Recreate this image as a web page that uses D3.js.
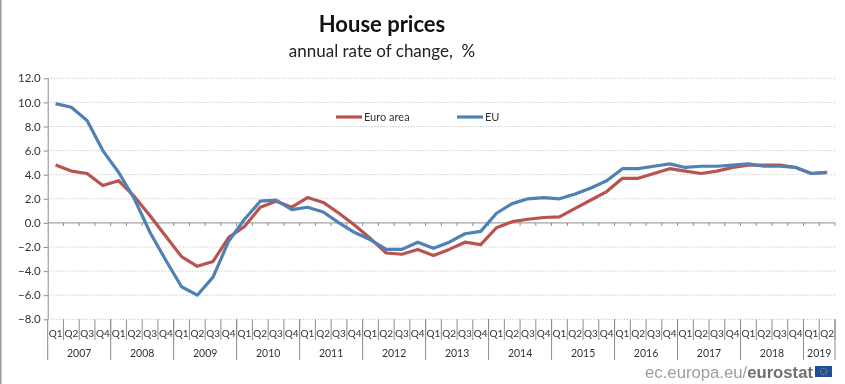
<!DOCTYPE html>
<html>
<head>
<meta charset="utf-8">
<script src="https://cdn.jsdelivr.net/npm/d3@7"></script>
<style>
  html, body { margin: 0; padding: 0; background: #fff; }
  svg { display: block; font-family: Lato, "Open Sans", sans-serif; filter: blur(0.4px); }
</style>
</head>
<body>
<div id="fig"></div>
<script>
const width = 845
const height = 384

const years = ['2007','2008','2009','2010','2011','2012','2013','2014','2015','2016','2017','2018','2019']
const quartersPerYear = [4,4,4,4,4,4,4,4,4,4,4,4,2]
const quarterNames = ['Q1','Q2','Q3','Q4']
const yTicks = [-8,-6,-4,-2,0,2,4,6,8,10,12]

const euroArea = [
  4.8, 4.3, 4.1, 3.1,
  3.5, 2.2, 0.6, -1.1,
  -2.8, -3.6, -3.2, -1.2,
  -0.3, 1.3, 1.8, 1.3,
  2.1, 1.7, 0.8, -0.2,
  -1.3, -2.5, -2.6, -2.2,
  -2.7, -2.2, -1.6, -1.8,
  -0.4, 0.1, 0.3, 0.45,
  0.5, 1.2, 1.9, 2.6,
  3.7, 3.7, 4.1, 4.5,
  4.3, 4.1, 4.3, 4.6,
  4.8, 4.8, 4.8, 4.6,
  4.1, 4.2
]
const eu = [
  9.9, 9.6, 8.5, 6.0,
  4.2, 2.0, -0.8, -3.1,
  -5.3, -6.0, -4.5, -1.5,
  0.3, 1.8, 1.9, 1.1,
  1.3, 0.9, 0.0, -0.8,
  -1.4, -2.2, -2.2, -1.6,
  -2.1, -1.6, -0.9, -0.7,
  0.8, 1.6, 2.0, 2.1,
  2.0, 2.4, 2.9, 3.5,
  4.5, 4.5, 4.7, 4.9,
  4.6, 4.7, 4.7, 4.8,
  4.9, 4.7, 4.7, 4.6,
  4.1, 4.2
]

// one entry per quarter, in order
const quarters = []
years.forEach((yr, i) => {
  for (let q = 0; q < quartersPerYear[i]; q++) quarters.push({year: yr, q: quarterNames[q], id: yr + quarterNames[q]})
})

const red = '#b85450'
const blue = '#4f81b5'
const textCol = '#333'

const xScale = d3.scaleBand()
  .domain(quarters.map(d => d.id))
  .range([47.7, 835])

const yScale = d3.scaleLinear()
  .domain([-8, 12])
  .range([319.3, 78.3])

const fig = d3.select('#fig')
  .append('svg')
  .attr('width', width)
  .attr('height', height)

// picture frame, left side
fig.append('rect').attr('x', 0).attr('y', 0).attr('width', 1.5).attr('height', height).attr('fill', '#9a9a9a')

// title
fig.append('text').attr('x', 382).attr('y', 32).attr('text-anchor', 'middle')
  .attr('font-size', 22).attr('font-weight', 700).attr('fill', '#111').text('House prices')
fig.append('text').attr('x', 382).attr('y', 57).attr('text-anchor', 'middle')
  .attr('font-size', 17).attr('fill', '#222').attr('xml:space', 'preserve').text('annual rate of change,  %')

// gridlines
fig.append('g').selectAll('line')
  .data(yTicks.filter(d => d !== 0))
  .enter()
  .append('line')
  .attr('x1', 47.7).attr('x2', 835)
  .attr('y1', d => yScale(d)).attr('y2', d => yScale(d))
  .attr('stroke', '#b5b5b5').attr('stroke-dasharray', '1 2')

// y axis
const yAxis = d3.axisLeft(yScale).tickValues(yTicks).tickFormat(d3.format('.1f')).tickSize(4).tickPadding(3)
const yG = fig.append('g').attr('transform', 'translate(47.7,0)').call(yAxis)
yG.select('.domain').attr('stroke', '#8c8c8c').attr('d', `M0.5,${yScale(12)}V${yScale(-8)}`)
yG.selectAll('.tick line').attr('stroke', '#8c8c8c')
yG.selectAll('text').attr('font-size', 11.5).attr('font-family', 'Lato, sans-serif').attr('fill', textCol)

// zero line with small ticks between quarters
const zeroY = yScale(0)
fig.append('line').attr('x1', 47.7).attr('x2', 835).attr('y1', zeroY).attr('y2', zeroY).attr('stroke', '#8c8c8c')
fig.append('g').selectAll('line')
  .data(quarters)
  .enter()
  .append('line')
  .attr('x1', d => xScale(d.id) + xScale.bandwidth()).attr('x2', d => xScale(d.id) + xScale.bandwidth())
  .attr('y1', zeroY).attr('y2', zeroY + 3)
  .attr('stroke', '#8c8c8c')

// category axis below the plot: quarter row
const sep = '#8c8c8c'
const qG = fig.append('g')
qG.selectAll('line')
  .data(quarters)
  .enter()
  .append('line')
  .attr('x1', d => xScale(d.id) + xScale.bandwidth()).attr('x2', d => xScale(d.id) + xScale.bandwidth())
  .attr('y1', 319.3).attr('y2', 340)
  .attr('stroke', sep)
qG.selectAll('text')
  .data(quarters)
  .enter()
  .append('text')
  .attr('x', d => xScale(d.id) + xScale.bandwidth() / 2)
  .attr('y', 336.5)
  .attr('text-anchor', 'middle')
  .attr('font-size', 10)
  .attr('fill', textCol)
  .text(d => d.q)

// year row
const firstOfYear = yr => quarters.find(d => d.year === yr).id
const lastOfYear = yr => quarters.filter(d => d.year === yr).pop().id
const yG2 = fig.append('g')
yG2.selectAll('line')
  .data(years)
  .enter()
  .append('line')
  .attr('x1', d => xScale(lastOfYear(d)) + xScale.bandwidth()).attr('x2', d => xScale(lastOfYear(d)) + xScale.bandwidth())
  .attr('y1', 319.3).attr('y2', 360)
  .attr('stroke', sep)
yG2.append('line').attr('x1', 47.7).attr('x2', 47.7).attr('y1', 319.3).attr('y2', 360).attr('stroke', sep)
yG2.selectAll('text')
  .data(years)
  .enter()
  .append('text')
  .attr('x', d => (xScale(firstOfYear(d)) + xScale(lastOfYear(d)) + xScale.bandwidth()) / 2)
  .attr('y', 357)
  .attr('text-anchor', 'middle')
  .attr('font-size', 10.5)
  .attr('fill', textCol)
  .text(d => d)

// series lines
const line = d3.line()
  .x((d, i) => xScale(quarters[i].id) + xScale.bandwidth() / 2)
  .y(d => yScale(d))

fig.append('path').datum(euroArea).attr('d', line).attr('fill', 'none')
  .attr('stroke', red).attr('stroke-width', 3.2).attr('stroke-linejoin', 'round')
fig.append('path').datum(eu).attr('d', line).attr('fill', 'none')
  .attr('stroke', blue).attr('stroke-width', 3.2).attr('stroke-linejoin', 'round')

// legend
const legend = [{name: 'Euro area', col: red, x: 336}, {name: 'EU', col: blue, x: 457}]
const lg = fig.append('g').selectAll('g').data(legend).enter().append('g')
  .attr('transform', d => `translate(${d.x},117)`)
lg.append('line').attr('x1', 0).attr('x2', 26).attr('stroke', d => d.col).attr('stroke-width', 3.2)
lg.append('text').attr('x', 28).attr('y', 4).attr('font-size', 11).attr('fill', textCol).text(d => d.name)

// source mark and flag
fig.append('text').attr('x', 813).attr('y', 378).attr('text-anchor', 'end')
  .attr('font-family', 'Liberation Sans, sans-serif').attr('font-size', 16.7).attr('fill', '#9a9ea3')
  .text('ec.europa.eu/')
  .append('tspan').attr('font-weight', 700).attr('fill', '#6b7076').text('eurostat')
fig.append('rect').attr('x', 815).attr('y', 366).attr('width', 17).attr('height', 11).attr('fill', '#1f4f9c')
fig.append('circle').attr('cx', 823.5).attr('cy', 371.5).attr('r', 3.2).attr('fill', 'none')
  .attr('stroke', '#d9c75a').attr('stroke-width', 0.8).attr('stroke-dasharray', '1 1')
</script>
</body>
</html>
